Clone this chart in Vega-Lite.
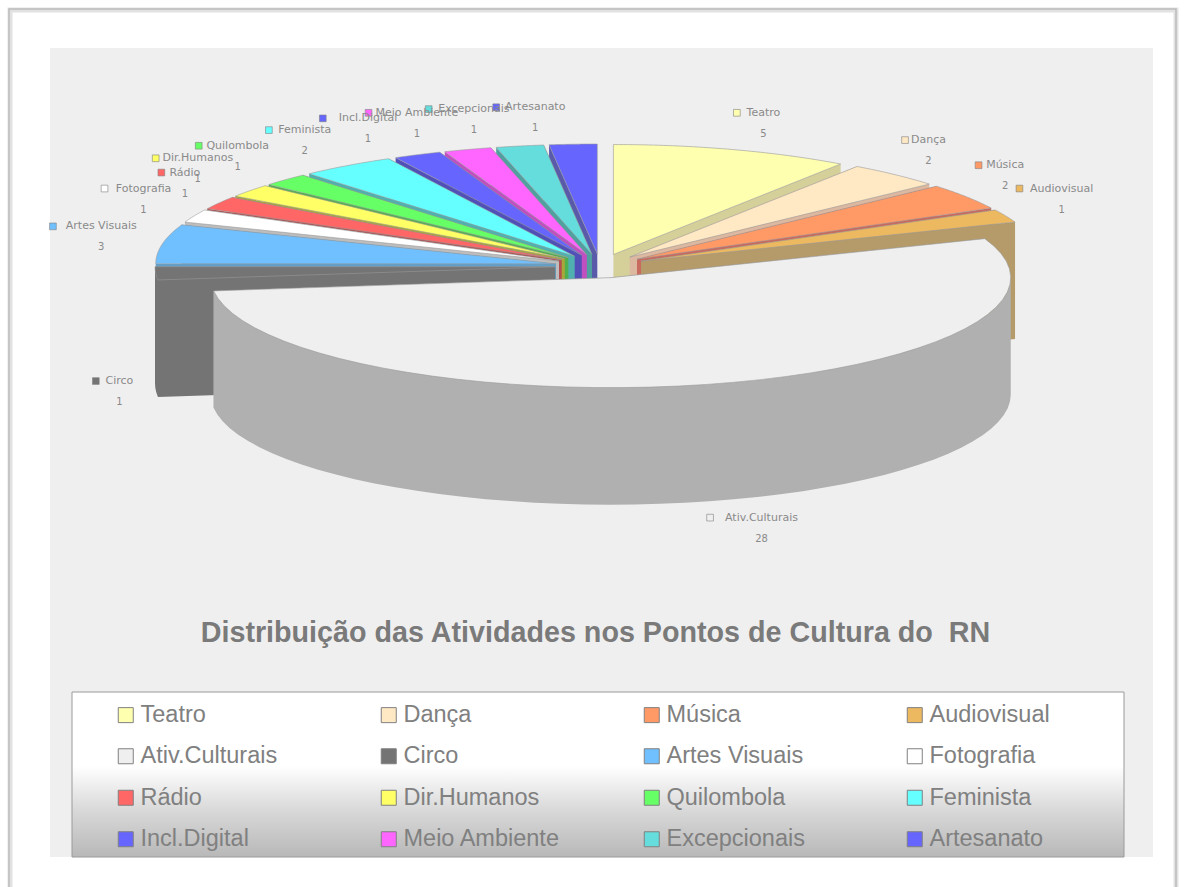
{
  "$schema": "https://vega.github.io/schema/vega-lite/v6.json",
  "width": 1103,
  "height": 809,
  "padding": {"left": 50, "top": 48, "right": 37, "bottom": 30},
  "autosize": "none",
  "background": "#ffffff",
  "view": {"fill": "#efefef", "stroke": null},
  "config": {"font": "Liberation Sans"},
  "title": {
    "text": "Distribuição das Atividades nos Pontos de Cultura do \u00a0RN",
    "orient": "bottom",
    "anchor": "middle",
    "offset": -314,
    "dx": -6,
    "fontSize": 28.7,
    "fontWeight": "bold",
    "font": "Liberation Sans",
    "color": "#7a7a7a"
  },
  "data": {
    "values": [
      {"ordem": 16, "atividade": "Artesanato", "valor": 1},
      {"ordem": 15, "atividade": "Excepcionais", "valor": 1},
      {"ordem": 1, "atividade": "Teatro", "valor": 5},
      {"ordem": 14, "atividade": "Meio Ambiente", "valor": 1},
      {"ordem": 13, "atividade": "Incl.Digital", "valor": 1},
      {"ordem": 12, "atividade": "Feminista", "valor": 2},
      {"ordem": 2, "atividade": "Dança", "valor": 2},
      {"ordem": 11, "atividade": "Quilombola", "valor": 1},
      {"ordem": 10, "atividade": "Dir.Humanos", "valor": 1},
      {"ordem": 9, "atividade": "Rádio", "valor": 1},
      {"ordem": 3, "atividade": "Música", "valor": 2},
      {"ordem": 8, "atividade": "Fotografia", "valor": 1},
      {"ordem": 4, "atividade": "Audiovisual", "valor": 1},
      {"ordem": 7, "atividade": "Artes Visuais", "valor": 3},
      {"ordem": 6, "atividade": "Circo", "valor": 1},
      {"ordem": 5, "atividade": "Ativ.Culturais", "valor": 28}
    ]
  },
  "transform": [
    {"window": [{"op": "sum", "field": "valor", "as": "acum"}], "sort": [{"field": "ordem"}], "frame": [null, 0]},
    {"joinaggregate": [{"op": "sum", "field": "valor", "as": "total"}]},
    {"calculate": "2*PI*(datum.acum-datum.valor)/datum.total", "as": "t0"},
    {"calculate": "2*PI*datum.acum/datum.total", "as": "t1"},
    {"calculate": "(datum.t0+datum.t1)/2", "as": "meio"},
    {"calculate": "600+45*sin(datum.meio)", "as": "cx"},
    {"calculate": "266-12*cos(datum.meio)", "as": "cy"},
    {"calculate": "600+(datum.meio>PI?-6:0)+460*sin(datum.meio)", "as": "lx0"},
    {"calculate": "cos(datum.meio)<0?372-150*cos(datum.meio):267-160*pow(cos(datum.meio),0.8)", "as": "ly"},
    {"calculate": "datum.meio>PI?datum.lx0-length(datum.atividade)*3.1:datum.lx0+8+length(datum.atividade)*3.1", "as": "tx"}
  ],
  "layer": [
    {
      "transform": [{"filter": "datum.ordem==1"}],
      "mark": {"type": "rect", "fill": null, "stroke": "#e2e2e2", "strokeWidth": 5, "clip": false},
      "encoding": {
        "x": {"datum": 10, "type": "quantitative", "scale": {"domain": [50, 1153], "nice": false, "zero": false}, "axis": null},
        "x2": {"datum": 1176},
        "y": {"datum": 10, "type": "quantitative", "scale": {"domain": [857, 48], "nice": false, "zero": false}, "axis": null},
        "y2": {"datum": 930}
      }
    },
    {
      "transform": [{"filter": "datum.ordem==1"}],
      "mark": {"type": "rect", "fill": null, "stroke": "#bcbcbc", "strokeWidth": 1.5, "clip": false},
      "encoding": {
        "x": {"datum": 9, "type": "quantitative"},
        "x2": {"datum": 1176},
        "y": {"datum": 9, "type": "quantitative"},
        "y2": {"datum": 930}
      }
    },
    {
      "transform": [{"filter": "datum.ordem==1"}],
      "mark": {
        "type": "rect",
        "stroke": "#9a9a9a",
        "strokeWidth": 1,
        "fill": {
          "gradient": "linear",
          "x1": 0, "y1": 0, "x2": 0, "y2": 1,
          "stops": [
            {"offset": 0, "color": "#ffffff"},
            {"offset": 0.45, "color": "#ffffff"},
            {"offset": 0.72, "color": "#d8d8d8"},
            {"offset": 1, "color": "#b8b8b8"}
          ]
        }
      },
      "encoding": {
        "x": {"datum": 72, "type": "quantitative"},
        "x2": {"datum": 1124},
        "y": {"datum": 692, "type": "quantitative"},
        "y2": {"datum": 857}
      }
    },
    {
      "transform": [
        {"calculate": "['outer','cut0','cut1']", "as": "faces"},
        {"flatten": ["faces"], "as": ["face"]},
        {"calculate": "datum.face=='outer'?sequence(0,98):sequence(0,4)", "as": "ks"},
        {"flatten": ["ks"], "as": ["k"]},
        {"calculate": "datum.atividade+'/'+datum.face", "as": "parede"},
        {"calculate": "max(datum.t0,PI/2)", "as": "frente0"},
        {"calculate": "max(datum.frente0,min(datum.t1,3*PI/2))", "as": "frente1"},
        {"calculate": "datum.face=='outer'?(datum.k<=48?datum.frente0+datum.k/48*(datum.frente1-datum.frente0):datum.frente1-(datum.k-49)/48*(datum.frente1-datum.frente0)):(datum.face=='cut0'?datum.t0:datum.t1)", "as": "ang"},
        {"calculate": "datum.face=='outer'||datum.k==1||datum.k==2?1:0", "as": "naBorda"},
        {"calculate": "datum.face=='outer'?datum.k>48:datum.k>=2", "as": "embaixo"},
        {"calculate": "datum.cx+datum.naBorda*400*sin(datum.ang)", "as": "px"},
        {"calculate": "datum.cy-datum.naBorda*110*cos(datum.ang)+(datum.embaixo?117:0)", "as": "py"}
      ],
      "mark": {"type": "line", "interpolate": "linear", "strokeWidth": 0, "clip": false},
      "encoding": {
        "x": {"field": "px", "type": "quantitative"},
        "y": {"field": "py", "type": "quantitative"},
        "order": {"field": "k", "type": "quantitative"},
        "detail": {"field": "parede"},
        "fill": {
          "field": "atividade",
          "legend": null,
          "scale": {
            "domain": ["Artesanato", "Excepcionais", "Meio Ambiente", "Incl.Digital", "Feminista", "Quilombola", "Dir.Humanos", "Rádio", "Fotografia", "Artes Visuais", "Circo", "Ativ.Culturais", "Audiovisual", "Música", "Dança", "Teatro"],
            "range": ["#5a5aaa", "#50a0a0", "#c050c0", "#5050b8", "#50b0b0", "#50b050", "#a8a838", "#b05050", "#bdbdbd", "#5f9fc8", "#747474", "#b0b0b0", "#b59a6a", "#c86a60", "#dcb8a0", "#d5d09a"]
          }
        }
      }
    },
    {
      "transform": [
        {"calculate": "sequence(0,51)", "as": "ks"},
        {"flatten": ["ks"], "as": ["k"]},
        {"calculate": "datum.t0+(datum.k-1)/48*(datum.t1-datum.t0)", "as": "ang"},
        {"calculate": "datum.k==0||datum.k==50?0:1", "as": "naBorda"},
        {"calculate": "datum.cx+datum.naBorda*400*sin(datum.ang)", "as": "px"},
        {"calculate": "datum.cy-datum.naBorda*110*cos(datum.ang)", "as": "py"}
      ],
      "mark": {"type": "line", "filled": true, "interpolate": "linear", "stroke": "#999999", "strokeWidth": 0.6, "clip": false},
      "encoding": {
        "x": {"field": "px", "type": "quantitative"},
        "y": {"field": "py", "type": "quantitative"},
        "order": {"field": "k", "type": "quantitative"},
        "detail": {"field": "atividade"},
        "color": {
          "field": "atividade",
          "scale": {
            "domain": ["Teatro", "Dança", "Música", "Audiovisual", "Ativ.Culturais", "Circo", "Artes Visuais", "Fotografia", "Rádio", "Dir.Humanos", "Quilombola", "Feminista", "Incl.Digital", "Meio Ambiente", "Excepcionais", "Artesanato"],
            "range": ["#ffffb0", "#ffe9c4", "#ff9966", "#ecb860", "#efefef", "#747474", "#70c0ff", "#ffffff", "#ff6666", "#ffff66", "#66ff66", "#66ffff", "#6666ff", "#ff66ff", "#66dddd", "#6666ff"]
          },
          "legend": {
            "title": null,
            "orient": "none",
            "legendX": 64,
            "legendY": 655,
            "columns": 4,
            "direction": "horizontal",
            "gridAlign": "all",
            "columnPadding": 79,
            "rowPadding": 16.5,
            "symbolType": "square",
            "symbolSize": 225,
            "symbolOpacity": 1,
            "symbolStrokeColor": "#a0a0a0",
            "symbolStrokeWidth": 1,
            "labelFont": "Liberation Sans",
            "labelFontSize": 23.5,
            "labelOffset": 3,
            "labelColor": "#808080",
            "labelLimit": 300
          }
        }
      }
    },
    {
      "transform": [
        {"calculate": "datum.meio>PI?datum.lx0-length(datum.atividade)*6.2-8:datum.lx0", "as": "lx"}
      ],
      "mark": {"type": "point", "shape": "square", "filled": true, "opacity": 1, "size": 45, "stroke": "#808080", "strokeWidth": 0.6, "clip": false},
      "encoding": {
        "x": {"field": "lx", "type": "quantitative"},
        "y": {"field": "ly", "type": "quantitative"},
        "color": {"field": "atividade"}
      }
    },
    {
      "mark": {"type": "text", "font": "DejaVu Sans", "fontSize": 11, "color": "#8a8a8a", "clip": false},
      "encoding": {
        "x": {"field": "tx", "type": "quantitative"},
        "y": {"field": "ly", "type": "quantitative"},
        "text": {"field": "atividade"}
      }
    },
    {
      "mark": {"type": "text", "font": "DejaVu Sans", "fontSize": 10, "color": "#8a8a8a", "clip": false, "dy": 21},
      "encoding": {
        "x": {"field": "tx", "type": "quantitative"},
        "y": {"field": "ly", "type": "quantitative"},
        "text": {"field": "valor", "type": "quantitative"}
      }
    }
  ]
}
